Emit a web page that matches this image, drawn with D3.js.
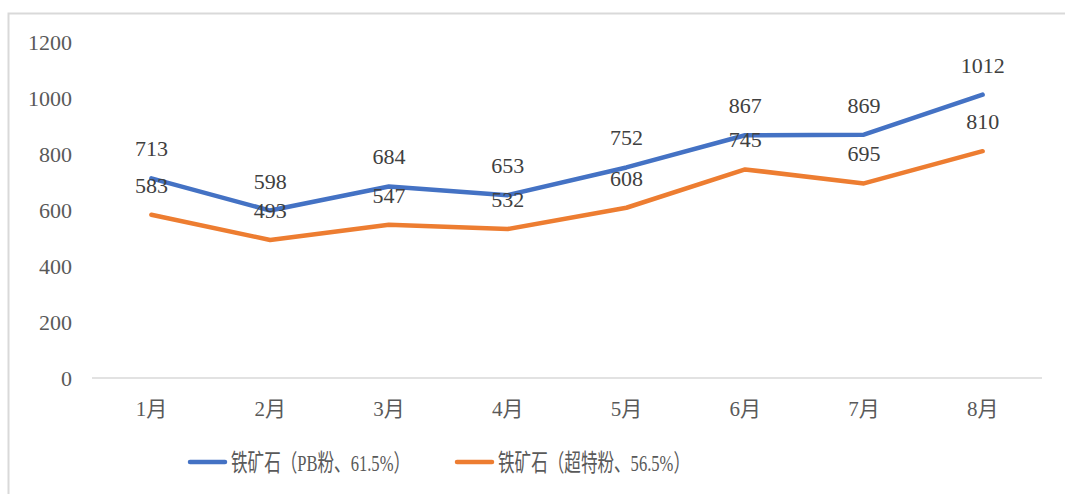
<!DOCTYPE html>
<html>
<head>
<meta charset="utf-8">
<script src="https://cdn.jsdelivr.net/npm/d3@7"></script>
<style>
  body { margin: 0; background: #fff; }
  svg { display: block; }
  text { font-family: "Liberation Serif", "Times New Roman", "Noto Sans CJK SC", serif; }
</style>
</head>
<body>
<svg id="chart"></svg>
<script>
const months = ['1月', '2月', '3月', '4月', '5月', '6月', '7月', '8月'];
const pbFines = [713, 598, 684, 653, 752, 867, 869, 1012];
const superFines = [583, 493, 547, 532, 608, 745, 695, 810];
const yTicks = [0, 200, 400, 600, 800, 1000, 1200];
const seriesNames = ['铁矿石（PB粉、61.5%）', '铁矿石（超特粉、56.5%）'];
const seriesColors = ['#4472C4', '#ED7D31'];

const WIDTH = 1065;
const HEIGHT = 494;
const NUM_FONT = '"Liberation Serif", "Times New Roman", "Noto Sans CJK SC", serif';

const svg = d3.select('#chart')
    .attr('width', WIDTH)
    .attr('height', HEIGHT);

// outer chart border (runs off the right and bottom edges)
svg.append('rect')
    .attr('x', 8.5)
    .attr('y', 13.5)
    .attr('width', 1070)
    .attr('height', 500)
    .attr('fill', 'none')
    .attr('stroke', '#d9d9d9')
    .attr('stroke-width', 2);

const x = d3.scaleBand().domain(months).range([92, 1042]);
const y = d3.scaleLinear().domain([0, 1200]).range([378, 42]);
const cx = d => x(d) + x.bandwidth() / 2;

// y axis labels only
const yAxis = svg.append('g')
    .attr('transform', 'translate(92,0)')
    .call(d3.axisLeft(y).tickValues(yTicks).tickFormat(d3.format('d')).tickSize(0).tickPadding(20));
yAxis.attr('font-family', null);
yAxis.select('.domain').remove();
yAxis.selectAll('text')
    .style('font-family', NUM_FONT)
    .attr('font-size', 22)
    .attr('fill', '#595959');

// category axis line
svg.append('line')
    .attr('x1', 92)
    .attr('x2', 1042)
    .attr('y1', y(0))
    .attr('y2', y(0))
    .attr('stroke', '#d9d9d9')
    .attr('stroke-width', 1.5);

svg.append('g')
    .selectAll('text')
    .data(months)
    .join('text')
    .attr('x', d => cx(d))
    .attr('y', 416)
    .attr('text-anchor', 'middle')
    .style('font-family', NUM_FONT)
    .attr('font-size', 21)
    .attr('fill', '#595959')
    .text(d => d);

const series = [pbFines, superFines];
const line = d3.line()
    .x((d, i) => cx(months[i]))
    .y(d => y(d));

series.forEach((values, s) => {
    svg.append('path')
        .datum(values)
        .attr('d', line)
        .attr('fill', 'none')
        .attr('stroke', seriesColors[s])
        .attr('stroke-width', 4.5)
        .attr('stroke-linecap', 'round')
        .attr('stroke-linejoin', 'round');
});

// data labels go on top of both lines
series.forEach(values => {
    svg.append('g')
        .selectAll('text')
        .data(values)
        .join('text')
        .attr('x', (d, i) => cx(months[i]))
        .attr('y', d => y(d) - 22)
        .attr('text-anchor', 'middle')
        .style('font-family', NUM_FONT)
        .attr('font-size', 22)
        .attr('fill', '#404040')
        .text(d => d);
});

// legend
const legendItems = [
    { x: 188, textX: 231, textLen: 179 },
    { x: 455, textX: 498, textLen: 192 }
];
legendItems.forEach((item, s) => {
    svg.append('line')
        .attr('x1', item.x + 2)
        .attr('x2', item.x + 37)
        .attr('y1', 462)
        .attr('y2', 462)
        .attr('stroke', seriesColors[s])
        .attr('stroke-width', 4.5)
        .attr('stroke-linecap', 'round');
    svg.append('text')
        .attr('x', item.textX)
        .attr('y', 471)
        .style('font-family', NUM_FONT)
        .attr('font-size', 24)
        .attr('fill', '#595959')
        .attr('textLength', item.textLen)
        .attr('lengthAdjust', 'spacingAndGlyphs')
        .text(seriesNames[s]);
});
</script>
</body>
</html>
